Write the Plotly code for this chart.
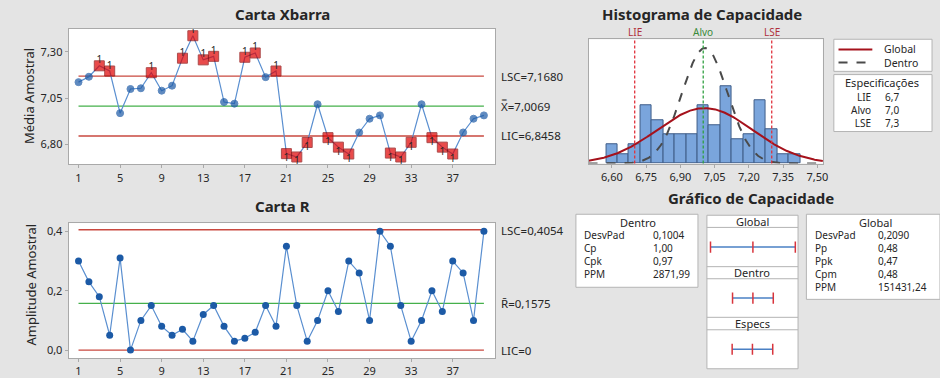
import numpy as np
import plotly.graph_objects as go

W, H = 940, 378
FONT = "Noto Sans"
TXT = "#262626"

# ---- Xbar-R data (40 subgroups, n = 3) ----
subgroups = list(range(1, 41))
xbar = [7.136, 7.165, 7.224, 7.196, 6.969, 7.099, 7.103, 7.187, 7.090, 7.117,
        7.265, 7.386, 7.256, 7.275, 7.029, 7.020, 7.270, 7.293, 7.163, 7.196,
        6.751, 6.733, 6.811, 7.017, 6.837, 6.786, 6.749, 6.865, 6.939, 6.957,
        6.754, 6.733, 6.812, 7.017, 6.837, 6.786, 6.749, 6.865, 6.939, 6.957]
ranges = [0.30, 0.23, 0.18, 0.05, 0.31, 0.00, 0.10, 0.15, 0.08, 0.05,
          0.07, 0.03, 0.12, 0.15, 0.08, 0.03, 0.04, 0.06, 0.15, 0.08,
          0.35, 0.15, 0.03, 0.10, 0.20, 0.13, 0.30, 0.26, 0.10, 0.40,
          0.35, 0.15, 0.03, 0.10, 0.20, 0.13, 0.30, 0.26, 0.10, 0.40]
x_ticks = [1, 5, 9, 13, 17, 21, 25, 29, 33, 37]
xbar_ticks = [6.80, 7.05, 7.30]
xbar_ticktext = ["6,80", "7,05", "7,30"]
r_ticks = [0.0, 0.2, 0.4]
r_ticktext = ["0,0", "0,2", "0,4"]

lsc_x, cl_x, lic_x = 7.1680, 7.0069, 6.8458
lsc_r, cl_r, lic_r = 0.4054, 0.1575, 0.0

# ---- capability histogram ----
bin_centers = [6.60, 6.65, 6.70, 6.75, 6.80, 6.85, 6.90, 6.95, 7.00,
               7.05, 7.10, 7.15, 7.20, 7.25, 7.30, 7.35, 7.40]
bin_counts = [4, 2, 4, 12, 9, 6, 6, 6, 12, 8, 16, 5, 6, 13, 7, 2, 2]
bin_width = 0.05
hist_ticks = [6.60, 6.75, 6.90, 7.05, 7.20, 7.35, 7.50]
hist_ticktext = ["6,60", "6,75", "6,90", "7,05", "7,20", "7,35", "7,50"]

lie, alvo, lse = 6.7, 7.0, 7.3
sd_within, sd_overall = 0.1004, 0.2090
dentro_stats = [("DesvPad", "0,1004"), ("Cp", "1,00"), ("Cpk", "0,97"), ("PPM", "2871,99")]
global_stats = [("DesvPad", "0,2090"), ("Pp", "0,48"), ("Ppk", "0,47"),
                ("Cpm", "0,48"), ("PPM", "151431,24")]


def px(x):
    return x / W


def py(y):
    return 1 - y / H


fig = go.Figure()
shapes, annotations = [], []

RED_LIM = "#c9483f"
GREEN_LIM = "#45b04b"
LINE_BLUE = "#5a8fd0"
DOT_BLUE = "#1c5aa6"


def limit_lines(xa, ya, levels, colors):
    for lv, c in zip(levels, colors):
        fig.add_trace(go.Scatter(x=[1, 40], y=[lv, lv], mode="lines", xaxis=xa, yaxis=ya,
                                 line=dict(color=c, width=1.3), hoverinfo="skip", showlegend=False))


# ---- Xbar chart ----
limit_lines("x", "y", [lsc_x, cl_x, lic_x], [RED_LIM, GREEN_LIM, RED_LIM])
fig.add_trace(go.Scatter(x=subgroups, y=xbar, mode="lines", xaxis="x", yaxis="y",
                         line=dict(color=LINE_BLUE, width=1.2), showlegend=False))
out_hi = [v > lsc_x for v in xbar]
out_lo = [v < lic_x for v in xbar]
flag = [h or l for h, l in zip(out_hi, out_lo)]
fig.add_trace(go.Scatter(
    x=subgroups, y=xbar, mode="markers", xaxis="x", yaxis="y", showlegend=False,
    marker=dict(symbol=["square" if f else "circle" for f in flag],
                size=[10 if f else 7 for f in flag],
                color=["#e00000" if f else DOT_BLUE for f in flag],
                line=dict(color=["#8a0000" if f else DOT_BLUE for f in flag], width=1))))
fig.add_trace(go.Scatter(
    x=[s for s, h in zip(subgroups, out_hi) if h], y=[v for v, h in zip(xbar, out_hi) if h],
    mode="text", text=["1"] * sum(out_hi), textposition="top center",
    textfont=dict(family=FONT, size=10, color=TXT), xaxis="x", yaxis="y", showlegend=False))
fig.add_trace(go.Scatter(
    x=[s for s, l in zip(subgroups, out_lo) if l], y=[v for v, l in zip(xbar, out_lo) if l],
    mode="text", text=["1"] * sum(out_lo), textposition="bottom center",
    textfont=dict(family=FONT, size=10, color=TXT), xaxis="x", yaxis="y", showlegend=False))

# ---- R chart ----
limit_lines("x2", "y2", [lsc_r, cl_r, lic_r], [RED_LIM, GREEN_LIM, RED_LIM])
fig.add_trace(go.Scatter(x=subgroups, y=ranges, mode="lines+markers", xaxis="x2", yaxis="y2",
                         line=dict(color=LINE_BLUE, width=1.2),
                         marker=dict(symbol="circle", size=7, color=DOT_BLUE), showlegend=False))

# ---- capability histogram ----
fig.add_trace(go.Bar(x=bin_centers, y=bin_counts, width=bin_width, xaxis="x3", yaxis="y3",
                     marker=dict(color="#7aa5dc", line=dict(color="#3e5d88", width=1)),
                     showlegend=False))
n_obs = sum(bin_counts)
xs = np.linspace(6.498, 7.524, 400)


def normal_counts(mu, sd):
    return n_obs * bin_width * np.exp(-0.5 * ((xs - mu) / sd) ** 2) / (sd * np.sqrt(2 * np.pi))


fig.add_trace(go.Scatter(x=xs, y=normal_counts(cl_x, sd_within), mode="lines", xaxis="x3", yaxis="y3",
                         line=dict(color="#4a4a4a", width=2, dash="dash"), showlegend=False))
fig.add_trace(go.Scatter(x=xs, y=normal_counts(cl_x, sd_overall), mode="lines", xaxis="x3", yaxis="y3",
                         line=dict(color="#a5121c", width=2), showlegend=False))
for v, c in [(lie, "#e0323c"), (alvo, "#2fa040"), (lse, "#e0323c")]:
    shapes.append(dict(type="line", xref="x3", yref="paper", x0=v, x1=v,
                       y0=py(166.7), y1=py(40), line=dict(color=c, width=1.3, dash="3px,2px")))
for v, t, c in [(lie, "LIE", "#b0303c"), (alvo, "Alvo", "#3a8a3a"), (lse, "LSE", "#b0303c")]:
    annotations.append(dict(x=v, xref="x3", y=py(33), yref="paper", text=t, showarrow=False,
                            borderpad=0, font=dict(family=FONT, size=10, color=c),
                            xanchor="center", yanchor="middle"))

# ---- capability plot panels ----
cap_rows = [
    ("x4", "y4", [cl_x - 3 * sd_overall, cl_x, cl_x + 3 * sd_overall]),
    ("x5", "y5", [cl_x - 3 * sd_within, cl_x, cl_x + 3 * sd_within]),
    ("x6", "y6", [lie, alvo, lse]),
]
for xa, ya, pts in cap_rows:
    fig.add_trace(go.Scatter(x=[pts[0], pts[2]], y=[0, 0], mode="lines", xaxis=xa, yaxis=ya,
                             line=dict(color="#4a80c4", width=1.5), showlegend=False))
    fig.add_trace(go.Scatter(x=pts, y=[0, 0, 0], mode="markers", xaxis=xa, yaxis=ya,
                             marker=dict(symbol="line-ns-open", size=8, color="#d8343c",
                                         line=dict(color="#d8343c", width=1.5)), showlegend=False))

# ---- axes ----
axis_common = dict(showgrid=False, zeroline=False, showline=True, mirror=True, linecolor="#a9a9a9",
                   linewidth=1, ticks="outside", ticklen=3, tickcolor="#a9a9a9",
                   tickfont=dict(family=FONT, size=11, color=TXT))
frame_only = dict(showgrid=False, zeroline=False, showline=True, mirror=True, linecolor="#a9a9a9",
                  linewidth=1, ticks="", showticklabels=False)
hidden = dict(visible=False, showgrid=False, zeroline=False)
layout_axes = dict(
    xaxis=dict(domain=[px(69), px(498)], range=[0.05, 41.1], tickvals=x_ticks, anchor="y", **axis_common),
    yaxis=dict(domain=[py(167.5), py(29.5)], range=[6.693, 7.4225], tickvals=xbar_ticks,
               ticktext=xbar_ticktext, anchor="x", **axis_common),
    xaxis2=dict(domain=[px(69), px(498)], range=[0.05, 41.1], tickvals=x_ticks, anchor="y2", **axis_common),
    yaxis2=dict(domain=[py(365), py(227.3)], range=[-0.0274, 0.4278], tickvals=r_ticks,
                ticktext=r_ticktext, anchor="x2", **axis_common),
    xaxis3=dict(domain=[px(591.7), px(827.3)], range=[6.498, 7.524], tickvals=hist_ticks,
                ticktext=hist_ticktext, anchor="y3", **axis_common),
    yaxis3=dict(domain=[py(166.7), py(40)], range=[0, 25.65], anchor="x3", **frame_only),
)
cap_x = dict(range=[6.327, 7.674], **hidden)
for i, (top, bot) in zip([4, 5, 6], [(231.7, 271.7), (284, 323.3), (336, 375.7)]):
    layout_axes[f"xaxis{i}"] = dict(domain=[px(710.7), px(802.3)], anchor=f"y{i}", **cap_x)
    layout_axes[f"yaxis{i}"] = dict(domain=[py(bot), py(top)], range=[-1, 1], anchor=f"x{i}", **hidden)


# ---- boxes and text ----
def box(x0, y0, x1, y1):
    shapes.append(dict(type="rect", xref="paper", yref="paper", x0=px(x0), x1=px(x1),
                       y0=py(y1), y1=py(y0), fillcolor="white",
                       line=dict(color="#b4b4b4", width=1), layer="below"))


def hline(x0, x1, y):
    shapes.append(dict(type="line", xref="paper", yref="paper", x0=px(x0), x1=px(x1),
                       y0=py(y), y1=py(y), line=dict(color="#b4b4b4", width=1)))


def text(x, y, t, size=11, anchor="left", bold=False, color=TXT, angle=0):
    annotations.append(dict(x=px(x), y=py(y), xref="paper", yref="paper", showarrow=False,
                            text=f"<b>{t}</b>" if bold else t, textangle=angle, align=anchor,
                            xanchor=anchor, yanchor="middle", borderpad=0,
                            font=dict(family=FONT, size=size, color=color)))


def column(x, y_first, items, size=10, anchor="left"):
    # one multi-line text per column; Plotly spaces lines at 1.3 em
    step = 1.3 * size
    yc = y_first + step * (len(items) - 1) / 2
    text(x, yc, "<br>".join(items), size, anchor)


# titles
text(284, 14, "Carta Xbarra", 15, "center", True)
text(284, 210, "Carta R", 15, "center", True)
text(706, 14, "Histograma de Capacidade", 15, "center", True)
text(755, 202, "Gráfico de Capacidade", 15, "center", True)
text(29, 98, "Média Amostral", 13, "center", angle=-90)
text(31, 290, "Amplitude Amostral", 13, "center", angle=-90)

# control-limit labels
text(503, 78, "LSC=7,1680", 11.5)
text(503, 108, "X̿=7,0069", 11.5)
text(503, 138, "LIC=6,8458", 11.5)
text(503, 235, "LSC=0,4054", 11.5)
text(503, 309, "R̄=0,1575", 11.5)
text(503, 357, "LIC=0", 11.5)

# histogram legend
box(838.3, 40, 937, 72.7)
shapes.append(dict(type="line", xref="paper", yref="paper", x0=px(843), x1=px(877),
                   y0=py(50.4), y1=py(50.4), line=dict(color="#a5121c", width=2)))
shapes.append(dict(type="line", xref="paper", yref="paper", x0=px(843), x1=px(877),
                   y0=py(63.6), y1=py(63.6), line=dict(color="#4a4a4a", width=2, dash="dash")))
column(888, 50.2, ["Global", "Dentro"], 10.5)
box(838.3, 76, 937, 134)
text(887, 84, "Especificações", 11, "center")
spec_rows = [("LIE", "6,7"), ("Alvo", "7,0"), ("LSE", "7,3")]
column(877, 99.5, [r[0] for r in spec_rows], 10, "right")
column(889, 99.5, [r[1] for r in spec_rows], 10)

# stats boxes
box(579, 218.3, 701.7, 292.7)
text(641, 226.5, "Dentro", 11, "center")
column(586, 240, [r[0] for r in dentro_stats])
column(655, 240, [r[1] for r in dentro_stats])

box(810.7, 218.3, 945, 305)
text(880, 226.5, "Global", 11, "center")
column(818, 240, [r[0] for r in global_stats])
column(881.5, 240, [r[1] for r in global_stats])

# capability plot frame
box(710.7, 219.3, 802.3, 375.7)
for yy in [231.7, 271.7, 284, 323.3, 336]:
    hline(710.7, 802.3, yy)
text(756.5, 225.5, "Global", 11, "center")
text(756.5, 278, "Dentro", 11, "center")
text(756.5, 329.7, "Especs", 11, "center")

fig.update_layout(
    width=W, height=H, margin=dict(l=0, r=0, t=0, b=0),
    paper_bgcolor="#e4e4e4", plot_bgcolor="white",
    showlegend=False, shapes=shapes, annotations=annotations,
    font=dict(family=FONT, color=TXT), bargap=0,
    **layout_axes,
)
fig.write_html("out.html")
